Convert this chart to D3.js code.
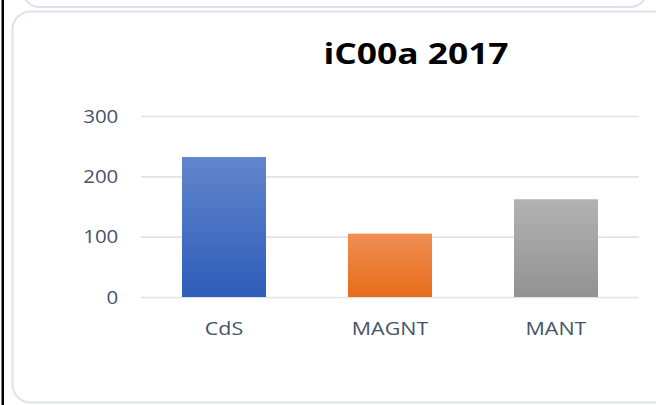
<!DOCTYPE html>
<html>
<head>
<meta charset="utf-8">
<script src="https://cdn.jsdelivr.net/npm/d3@7"></script>
<style>
  html, body { margin: 0; background: #fff; overflow: hidden; }
  svg { display: block; }
</style>
</head>
<body>
<div id="graph"></div>
<script>
// chart data
var categories = ["CdS", "MAGNT", "MANT"];
var values = [232, 105, 162];
var yTicks = [0, 100, 200, 300];
var titleText = "iC00a 2017";

// bar gradient colours, top -> bottom
var barColours = [
    ["#6286cd", "#2d5db8"],
    ["#f08e55", "#e76c18"],
    ["#b2b2b2", "#929292"]
];

var width = 656;
var height = 405;

var svg = d3.select("#graph")
    .append("svg")
    .attr("width", width)
    .attr("height", height);

var defs = svg.append("defs");
barColours.forEach(function(c, i)
{
    var g = defs.append("linearGradient")
        .attr("id", "grad" + i)
        .attr("x1", 0).attr("y1", 0)
        .attr("x2", 0).attr("y2", 1);
    g.append("stop").attr("offset", "0%").attr("stop-color", c[0]);
    g.append("stop").attr("offset", "100%").attr("stop-color", c[1]);
});

// frame bits
svg.append("rect")
    .attr("x", 1.5).attr("y", 0)
    .attr("width", 2.5).attr("height", height)
    .attr("fill", "#000");

svg.append("rect")
    .attr("x", 22).attr("y", -30)
    .attr("width", 626).attr("height", 37)
    .attr("rx", 18)
    .attr("fill", "#fff")
    .attr("stroke", "#dde3ea")
    .attr("stroke-width", 2);

svg.append("rect")
    .attr("x", 12.5).attr("y", 11.5)
    .attr("width", 680).attr("height", 391)
    .attr("rx", 18)
    .attr("fill", "#fff")
    .attr("stroke", "#dde3ea")
    .attr("stroke-width", 2);

// scales
var plot = {left: 141, right: 639, top: 116, bottom: 297};

var x = d3.scaleBand()
    .domain(categories)
    .range([plot.left, plot.right])
    .paddingInner(0.494)
    .paddingOuter(0.247);

var y = d3.scaleLinear()
    .domain([0, 300])
    .range([plot.bottom, plot.top]);

// y axis + gridlines
var yAxis = svg.append("g")
    .attr("transform", "translate(" + plot.left + ",0)")
    .call(d3.axisLeft(y)
        .tickValues(yTicks)
        .tickSizeInner(-(plot.right - plot.left))
        .tickSizeOuter(0)
        .tickPadding(21));

yAxis.select(".domain").remove();
yAxis.selectAll("line")
    .attr("stroke", "#dfe3e8")
    .attr("stroke-width", 1.6);
yAxis.selectAll("text")
    .attr("fill", "#44546a")
    .style("font-family", "'Open Sans', sans-serif")
    .style("font-size", "19px")
    .attr("transform", "scale(1.08,1)");

// bars
svg.selectAll(".bar")
    .data(values)
    .enter().append("rect")
    .attr("class", "bar")
    .attr("x", function(d, i) { return x(categories[i]); })
    .attr("y", function(d) { return y(d); })
    .attr("width", x.bandwidth())
    .attr("height", function(d) { return y(0) - y(d); })
    .attr("fill", function(d, i) { return "url(#grad" + i + ")"; });

// x axis
var xAxis = svg.append("g")
    .attr("transform", "translate(0," + plot.bottom + ")")
    .call(d3.axisBottom(x)
        .tickSize(0)
        .tickPadding(25));

xAxis.select(".domain").remove();
xAxis.selectAll("text")
    .attr("fill", "#44546a")
    .style("font-family", "'Open Sans', sans-serif")
    .style("font-size", "19px")
    .attr("transform", "scale(1.13,1)");

// title
svg.append("text")
    .attr("transform", "translate(416,64) scale(1.22,1)")
    .attr("text-anchor", "middle")
    .style("font-family", "'Open Sans', sans-serif")
    .style("font-weight", "bold")
    .style("font-size", "29px")
    .attr("fill", "#000")
    .text(titleText);
</script>
</body>
</html>
